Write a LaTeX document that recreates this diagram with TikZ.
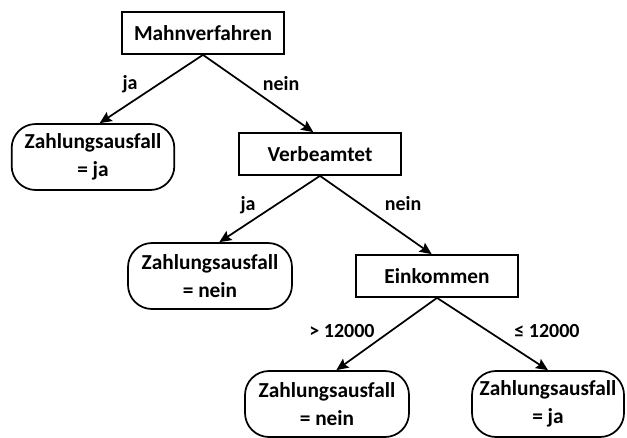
\documentclass[tikz,border=0pt]{standalone}
\usepackage{fontspec}
\setmainfont{Carlito}
\usetikzlibrary{arrows.meta}
\tikzstyle{test}=[draw, line width=1.3pt, minimum width=121pt, minimum height=31.5pt, font=\bfseries\fontsize{16}{21}\selectfont]
\tikzstyle{leaf}=[draw, rounded corners=18pt, line width=1.3pt, inner xsep=2pt, minimum height=49.5pt, align=center, font=\bfseries\fontsize{16}{21}\selectfont]
\tikzstyle{to}=[-{Stealth[length=9pt,width=8pt,inset=1.5pt]}, line width=1.3pt]
\tikzstyle{lbl}=[inner sep=0pt, font=\bfseries\fontsize{15}{18}\selectfont]

\begin{document}
\begin{tikzpicture}[x=0.75pt, y=-0.75pt]
            \useasboundingbox (0,0) rectangle (627,437);
            % decision nodes
            \node[test] (M) at (203, 33) {Mahnverfahren};
            \node[test] (V) at (320, 154) {Verbeamtet};
            \node[test] (E) at (437, 276) {Einkommen};
            % leaves
            \node[leaf, minimum width=122pt] (L1) at (93, 157) {Zahlungsausfall\\= ja};
            \node[leaf, minimum width=123pt] (L2) at (210, 276) {Zahlungsausfall\\= nein};
            \node[leaf, minimum width=123pt] (L3) at (327, 404) {Zahlungsausfall\\= nein};
            \node[leaf, minimum width=114pt] (L4) at (548, 404) {Zahlungsausfall\\= ja};
            % connectors
            \draw[to] (M.south) -- ([xshift=5pt]L1.north);
            \draw[to] (M.south) -- ([xshift=-5pt]V.north);
            \draw[to] (V.south) -- ([xshift=7pt]L2.north);
            \draw[to] (V.south) -- ([xshift=-4pt]E.north);
            \draw[to] (E.south) -- ([xshift=7pt]L3.north);
            \draw[to] (E.south) -- (L4.north);
            % labels
            \node[lbl] (jaM) at (130, 84) {ja};
            \node[lbl] (neinM) at (281, 84) {nein};
            \node[lbl] (jaV) at (248, 205) {ja};
            \node[lbl] (neinV) at (403, 204) {nein};
            \node[lbl] (gtE) at (342, 331) {> 12000};
            \node[lbl] (leE) at (547, 331) {≤ 12000};
        \end{tikzpicture}
\end{document}
